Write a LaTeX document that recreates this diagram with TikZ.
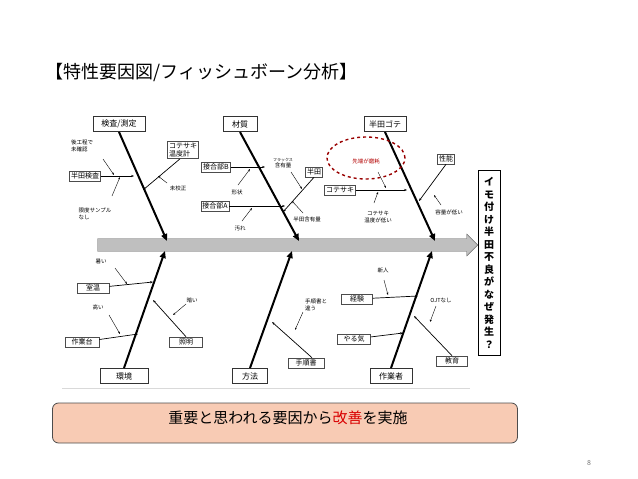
\documentclass[tikz,border=0pt]{standalone}
\usepackage{fontspec}
\setmainfont{Noto Sans CJK JP}
\usetikzlibrary{arrows.meta,shapes.geometric,shapes.arrows}
\definecolor{salmon}{HTML}{F8CBB4}
\begin{document}
\begin{tikzpicture}[x=1pt,y=-1pt,
 bx/.style={draw=black!70,line width=0.6pt,fill=white,font=\fontsize{7}{8}\selectfont,inner sep=1.5pt,minimum height=10pt},
 cat/.style={draw=black!80,line width=1pt,fill=white,font=\fontsize{8}{9}\selectfont,minimum width=44pt,minimum height=15pt},
 bone/.style={line width=2pt,-{Triangle[length=7pt,width=6pt]}},
 twig/.style={line width=0.7pt,-{Stealth[length=3pt]}},
 tiny/.style={font=\fontsize{5.5}{6.5}\selectfont,align=left,inner sep=0.5pt},
 ptr/.style={line width=0.4pt,-{Stealth[length=2.5pt]}}]
\useasboundingbox (0,0) rectangle (638,479);
\node[anchor=west,font=\fontsize{18}{20}\selectfont] (title) at (42,72) {【特性要因図/フィッシュボーン分析】};
\draw[black!15] (62,388) -- (470,388);
% spine
\node[draw=black!60,fill=black!25,single arrow,minimum height=380pt,minimum width=22pt,single arrow head extend=4pt,inner xsep=0pt,inner ysep=5.5pt,anchor=tip] (spine) at (478,245) {};
\node[draw,line width=1pt,fill=white,minimum width=22pt,minimum height=185pt,align=center,font=\fontsize{10}{12.5}\selectfont\bfseries] (eff) at (489,263) {イ\\モ\\付\\け\\半\\田\\不\\良\\が\\な\\ぜ\\発\\生\\？};
% categories
\node[cat,minimum width=52pt] (c1) at (119,124) {検査/測定};
\node[cat,minimum width=34pt] (c2) at (240,124) {材質};
\node[cat,minimum width=42pt] (c3) at (385,124) {半田ゴテ};
\node[cat,minimum width=48pt] (c4) at (124,376) {環境};
\node[cat,minimum width=35pt] (c5) at (250,376) {方法};
\node[cat,minimum width=42pt] (c6) at (391,376) {作業者};
\coordinate (e1) at (167,241); \coordinate (e2) at (299,241); \coordinate (e3) at (435,241);
\coordinate (e4) at (165,251); \coordinate (e5) at (292,251); \coordinate (e6) at (432,251);
\draw[bone] (c1.south) -- (e1);
\draw[bone] (c2.south) -- (e2);
\draw[bone] (c3.south) -- (e3);
\draw[bone] (c4.north) -- (e4);
\draw[bone] (c5.north) -- (e5);
\draw[bone] (c6.north) -- (e6);
% 検査/測定
\node[bx] (a1) at (85,176) {半田検査};
\coordinate (a1e) at (134,176);
\draw[twig] (a1) -- (a1e);
\node[tiny] (t1) at (82,146) {後工程で\\未確認};
\node[tiny] (t2) at (95,214) {限度サンプル\\なし};
\draw[ptr] (103,159) -- (114,175);
\draw[ptr] (112,196) -- (120,177);
\node[bx,align=left] (a2) at (183,150) {コテサキ\\温度計};
\coordinate (a2e) at (143,190);
\draw[twig] (a2.south) ++(-3,0) -- (a2e);
\node[tiny] (t3) at (178,188) {未校正};
\draw[ptr] (167,183) -- (158,176);
% 材質
\node[bx] (b1) at (216,167) {接合部B};
\coordinate (b1e) at (265,167);
\draw[twig] (b1) -- (b1e);
\node[bx] (b2) at (215,206) {接合部A};
\coordinate (b2e) at (285,206);
\draw[twig] (b2) -- (b2e);
\node[tiny] (t4) at (237,192) {形状};
\node[tiny] (t5) at (240,228) {汚れ};
\draw[ptr] (238,185) -- (250,169);
\draw[ptr] (242,221) -- (252,208);
\node[bx] (b3) at (314,172) {半田};
\coordinate (b3e) at (283,212);
\draw[twig] (b3.south) -- (b3e);
\node[tiny,align=center] (t6) at (283,163) {{\fontsize{4}{5}\selectfont フラックス}\\含有量};
\draw[ptr] (291,172) -- (302,189);
\node[tiny] (t7) at (307,219) {半田含有量};
\draw[ptr] (303,213) -- (292,201);
% 半田ゴテ
\draw[red!60!black,dashed,line width=1.4pt] (366,158) ellipse [x radius=39pt,y radius=21pt];
\node[tiny,text=red!70!black] (t8) at (366,161) {先端が磨耗};
\node[bx] (d1) at (340,190) {コテサキ};
\coordinate (d1e) at (407,190);
\draw[twig] (d1) -- (d1e);
\draw[ptr] (378,172) -- (386,188);
\node[tiny,align=center] (t9) at (378,217) {コテサキ\\温度が低い};
\draw[ptr] (374,203) -- (378,192);
\node[bx] (d2) at (446,159) {性能};
\coordinate (d2e) at (419,201);
\draw[twig] (d2.south) -- (d2e);
\node[tiny] (t10) at (449,212) {容量が低い};
\draw[ptr] (441,205) -- (434,195);
% 環境
\node[bx,minimum width=32pt] (f1) at (93,288) {室温};
\coordinate (f1e) at (153,282);
\draw[twig] (f1) -- (f1e);
\node[tiny] (t11) at (101,262) {暑い};
\draw[ptr] (115,268) -- (127,284);
\node[bx,minimum width=34pt] (f2) at (82,342) {作業台};
\coordinate (f2e) at (138,334);
\draw[twig] (f2) -- (f2e);
\node[tiny] (t12) at (98,307) {高い};
\draw[ptr] (109,315) -- (120,334);
\node[bx,minimum width=33pt] (f3) at (186,342) {照明};
\coordinate (f3e) at (153,300);
\draw[twig] (f3.north) -- (f3e);
\node[tiny] (t13) at (192,300) {暗い};
\draw[ptr] (186,304) -- (173,315);
% 方法
\node[bx,minimum width=36pt] (g1) at (306,363) {手順書};
\coordinate (g1e) at (272,322);
\draw[twig] (g1.north) ++(6,0) -- (g1e);
\node[tiny] (t14) at (316,305) {手順書と\\違う};
\draw[ptr] (303,312) -- (295,330);
% 作業者
\node[bx,minimum width=31pt] (h1) at (357,299) {経験};
\coordinate (h1e) at (418,296);
\draw[twig] (h1) -- (h1e);
\node[tiny] (t15) at (383,270) {新人};
\draw[ptr] (384,280) -- (388,295);
\node[bx,minimum width=33pt] (h2) at (354,339) {やる気};
\coordinate (h2e) at (403,333);
\draw[twig] (h2) -- (h2e);
\node[tiny] (t16) at (441,300) {OJTなし};
\draw[ptr] (436,306) -- (430,322);
\node[bx,minimum width=31pt] (h3) at (452,361) {教育};
\coordinate (h3e) at (414,316);
\draw[twig] (h3.north) -- (h3e);
% bottom box
\node[draw=black!70,line width=0.8pt,fill=salmon,rounded corners=6pt,minimum width=465pt,minimum height=40pt] (note) at (285,423) {};
\node[font=\fontsize{15}{17}\selectfont] (nt) at (288,418) {重要と思われる要因から\textcolor{red!85!black}{改善}を実施};
\node[font=\fontsize{7}{8}\selectfont,text=black!55] (pg) at (589,463) {8};
\end{tikzpicture}
\end{document}
